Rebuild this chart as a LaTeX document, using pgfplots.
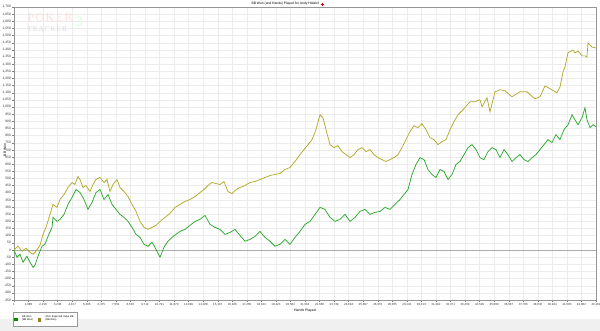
\documentclass[border=0pt]{standalone}
\usepackage{pgfplots}
\pgfplotsset{compat=1.18}
\usepackage{pgfplotstable}
\usepackage{fontspec}
\setmainfont{Liberation Sans}
\newfontfamily\wmfont[LetterSpace=12]{Liberation Serif}
\definecolor{bbgreen}{RGB}{40,168,40}
\definecolor{evolive}{RGB}{176,170,40}
\definecolor{gridc}{RGB}{236,236,236}
\definecolor{axc}{RGB}{150,150,150}

\pgfplotstableread{
x y
0 0
297 26
593 -9
890 12
1187 -16
1409 -30
1632 -9
1928 33
2151 109
2373 158
2670 249
2892 319
3189 298
3411 353
3708 388
4005 437
4301 472
4524 458
4746 514
4895 493
5117 437
5340 451
5636 409
5859 458
6081 493
6378 507
6674 472
6897 493
7119 409
7342 458
7638 493
7861 437
8158 409
8454 374
8751 319
9048 270
9344 200
9641 158
9937 144
10234 158
10531 172
10827 200
11198 228
11569 256
11940 298
12311 319
12681 339
13052 353
13423 374
13794 402
14090 423
14387 451
14684 472
14980 465
15277 458
15574 479
15870 409
16167 395
16464 423
16760 437
17131 451
17502 472
17873 479
18243 493
18614 507
18985 521
19356 528
19727 535
20097 563
20468 577
20839 619
21210 667
21506 702
21803 737
22100 772
22396 842
22693 946
22915 925
23138 842
23435 737
23731 716
24028 730
24324 688
24621 667
24918 646
25214 667
25511 702
25807 716
26104 688
26401 702
26698 667
26994 646
27291 632
27588 619
27884 632
28181 646
28477 667
28774 716
29071 772
29367 828
29664 870
29961 856
30257 883
30554 842
30851 786
31147 772
31444 737
31740 758
32037 772
32334 842
32630 897
32927 946
33298 981
33817 1037
34188 1037
34559 1051
34707 1002
35078 1065
35300 967
35671 1107
36042 1121
36413 1114
36932 1072
37525 1107
38044 1107
38267 1086
38638 1058
39008 1072
39379 1148
39750 1128
40269 1100
40491 1141
40714 1246
40862 1281
41085 1379
41456 1399
41604 1379
41826 1392
42123 1358
42345 1358
42493 1351
42567 1448
42864 1420
43161 1413
}\evdata

\pgfplotstableread{
x y
0 0
222 -51
445 -30
667 -86
964 -44
1187 -86
1409 -121
1557 -107
1780 -44
2076 26
2299 40
2521 95
2818 158
2892 228
3189 200
3411 214
3708 249
4005 319
4301 367
4598 423
4895 402
5191 353
5488 284
5784 333
6081 402
6378 423
6674 353
6971 388
7268 319
7564 284
7861 249
8158 228
8454 200
8751 158
9048 109
9344 88
9641 40
9937 26
10234 54
10531 5
10827 -51
11124 19
11421 61
11717 88
12014 109
12311 130
12681 144
13052 172
13423 200
13794 214
14165 242
14535 179
14906 158
15277 144
15648 109
16019 123
16389 144
16760 102
17131 61
17502 74
17873 95
18243 130
18614 88
18985 61
19356 26
19727 40
20097 74
20468 40
20839 88
21210 130
21581 179
21951 200
22322 249
22693 298
23064 284
23435 228
23806 200
24176 214
24547 249
24918 200
25289 228
25659 270
26030 284
26401 249
26772 263
27143 270
27513 298
27884 284
28255 319
28626 353
28922 388
29219 423
29516 528
29812 598
30109 646
30406 632
30702 563
30999 528
31296 507
31592 563
31889 549
32185 493
32482 528
32779 598
33075 619
33372 667
33669 716
33965 737
34262 702
34559 646
34855 632
35152 688
35449 716
35745 702
36042 646
36338 702
36635 667
36932 619
37229 646
37525 667
37822 632
38118 619
38415 646
38712 667
39008 702
39305 737
39601 772
39898 751
40195 807
40491 772
40788 842
41085 876
41381 946
41604 911
41826 876
42123 925
42345 995
42493 911
42716 856
42938 876
43161 862
}\bbdata

\begin{document}
\begin{tikzpicture}
\useasboundingbox (-10.5pt,-23.25pt) rectangle (439.5pt,225pt);
\fill[white] (-10.5pt,-23.25pt) rectangle (439.5pt,225pt);
\fill[gray!12] (-10.5pt,-23.25pt) rectangle (439.5pt,-14.25pt);
\begin{axis}[
  scale only axis,
  width=436.5pt, height=219.75pt,
  xmin=0, xmax=43161,
  ymin=-350, ymax=1700,
  axis line style={draw=axc, line width=0.5pt},
  ytick={-350,-300,...,1700},
  xtick={1,1080,2159,3238,4317,5396,6475,7554,8633,9712,10791,11870,12949,14028,15107,16186,17265,18344,19423,20502,21581,22660,23739,24818,25897,26976,28055,29134,30213,31292,32371,33450,34529,35608,36687,37766,38845,39924,41003,42082,43161},
  scaled x ticks=false, scaled y ticks=false,
  /pgf/number format/assume math mode=true,
  /pgf/number format/1000 sep={,},
  /pgf/number format/fixed,
  /pgf/number format/precision=0,
  tick align=outside,
  major tick length=1.5pt,
  tick style={draw=gray, line width=0.3pt},
  xtick pos=bottom, ytick pos=left,
  grid=major,
  major grid style={draw=gridc, line width=0.3pt},
  xticklabel style={font=\fontsize{2.2}{2.6}\selectfont, inner sep=0.6pt, text=black!80},
  yticklabel style={font=\fontsize{2.5}{3}\selectfont, inner sep=0.6pt, text=black!80},
  xlabel={Hands Played},
  ylabel={BB Won},
  xlabel style={font=\fontsize{2.6}{3}\selectfont, at={(axis description cs:0.5,-0.0375)}, anchor=center, inner sep=0pt},
  ylabel style={font=\fontsize{2.6}{3}\selectfont, at={(axis description cs:-0.0155,0.512)}, anchor=center, rotate=0, inner sep=0pt},
  every axis title shift=0pt,
  title={BB Won (and Hands) Played for Andy Hidalof\ \ \tikz[baseline=-0.2pt]{\fill[red!85!black] (-0.35pt,-1.1pt) rectangle (0.35pt,1.1pt); \fill[red!85!black] (-1.1pt,-0.35pt) rectangle (1.1pt,0.35pt);}},
  title style={font=\fontsize{2.5}{2.8}\selectfont, at={(axis description cs:0.47,1.009)}, anchor=center, inner sep=0pt, yshift=0pt},
  legend style={at={(axis description cs:-0.002,-0.041)}, anchor=north west, legend columns=2,
    font=\fontsize{1.9}{2.3}\selectfont, draw=gray!80, line width=0.3pt, inner sep=0.8pt,
    row sep=0pt, column sep=1.5pt, cells={align=left, anchor=west}},
  clip=true,
]
\addplot[draw=axc!80, line width=0.6pt, forget plot] coordinates {(0,0) (43161,0)};
\addplot[color=evolive, line width=0.55pt, forget plot] table[x=x,y=y] {\evdata};
\addplot[color=bbgreen, line width=0.55pt,
  legend image code/.code={\fill[green!55!black] (0pt,-1pt) rectangle (2pt,1pt);}]
  table[x=x,y=y] {\bbdata};
\addlegendentry{BB Won\\(BB Won)}
\addlegendimage{legend image code/.code={\fill[evolive!80!black] (0pt,-1pt) rectangle (2pt,1pt);}}
\addlegendentry{All-in Expected Value BB\\(BB Won)}
\node[font=\wmfont\fontsize{9}{9}\selectfont, text=red!12, anchor=center] at (axis description cs:0.062,0.964) {POKER};
\node[font=\wmfont\fontsize{5.5}{5.5}\selectfont, text=black!14, anchor=center] at (axis description cs:0.057,0.923) {TRACKER};
\node[font=\fontsize{11}{11}\selectfont\wmfont, text=green!15, anchor=center] at (axis description cs:0.112,0.950) {3};
\end{axis}
\end{tikzpicture}
\end{document}
